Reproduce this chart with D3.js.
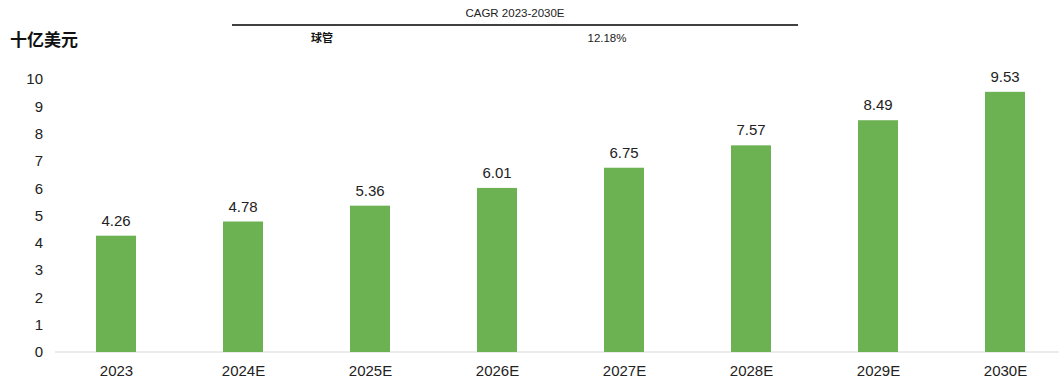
<!DOCTYPE html>
<html>
<head>
<meta charset="utf-8">
<script src="https://cdn.jsdelivr.net/npm/d3@7"></script>
<style>
  body { margin: 0; background: #fff; }
  svg { font-family: "Liberation Sans", Arial, sans-serif; }
</style>
</head>
<body>
<svg id="chart" width="1059" height="383"></svg>
<script>
// data
const years = ["2023", "2024E", "2025E", "2026E", "2027E", "2028E", "2029E", "2030E"];
const values = [4.26, 4.78, 5.36, 6.01, 6.75, 7.57, 8.49, 9.53];
const yTicks = [0, 1, 2, 3, 4, 5, 6, 7, 8, 9, 10];
const cagrRow = ["球管", "12.18%"];

const svg = d3.select("#chart");

const x = d3.scalePoint().domain(years).range([52.5, 1068.5]).padding(0.5);
const y = d3.scaleLinear().domain([0, 10]).range([352, 79]);
const barW = 40;

// unit label
svg.append("text")
  .attr("x", 10).attr("y", 46)
  .attr("font-size", 17).attr("font-weight", "bold")
  .attr("font-family", "'Noto Sans CJK SC', sans-serif")
  .attr("fill", "#111")
  .text("十亿美元");

// CAGR table at top
svg.append("text")
  .attr("x", 515).attr("y", 17)
  .attr("text-anchor", "middle").attr("font-size", 11.5).attr("fill", "#222")
  .text("CAGR 2023-2030E");
svg.append("line")
  .attr("x1", 232).attr("x2", 798).attr("y1", 25).attr("y2", 25)
  .attr("stroke", "#000").attr("stroke-width", 1.5);
svg.append("text")
  .attr("x", 322).attr("y", 42)
  .attr("text-anchor", "middle").attr("font-size", 11).attr("font-weight", "bold")
  .attr("font-family", "'Noto Sans CJK SC', sans-serif")
  .attr("fill", "#111")
  .text(cagrRow[0]);
svg.append("text")
  .attr("x", 607).attr("y", 42)
  .attr("text-anchor", "middle").attr("font-size", 11.5).attr("fill", "#222")
  .text(cagrRow[1]);

// y axis labels, no line
const yAxis = d3.axisLeft(y).tickValues(yTicks).tickSize(0).tickPadding(0);
svg.append("g")
  .attr("transform", "translate(43,0)")
  .call(yAxis)
  .call(g => g.select(".domain").remove())
  .selectAll("text")
  .attr("font-size", 15).attr("fill", "#222")
  .attr("font-family", "'Liberation Sans', Arial, sans-serif");

// baseline
svg.append("line")
  .attr("x1", 55).attr("x2", 1059).attr("y1", y(0)).attr("y2", y(0))
  .attr("stroke", "#d9d9d9").attr("stroke-width", 1);

// x axis labels
const xAxis = d3.axisBottom(x).tickSize(0).tickPadding(13);
svg.append("g")
  .attr("transform", `translate(0,${y(0)})`)
  .call(xAxis)
  .call(g => g.select(".domain").remove())
  .selectAll("text")
  .attr("font-size", 15).attr("fill", "#222")
  .attr("font-family", "'Liberation Sans', Arial, sans-serif");

// bars
const data = years.map((yr, i) => ({ year: yr, value: values[i] }));
svg.append("g").selectAll("rect").data(data).enter().append("rect")
  .attr("x", d => x(d.year) - barW / 2)
  .attr("y", d => y(d.value))
  .attr("width", barW)
  .attr("height", d => y(0) - y(d.value))
  .attr("fill", "#6cb152");

// value labels
svg.append("g").selectAll("text").data(data).enter().append("text")
  .attr("x", d => x(d.year))
  .attr("y", d => y(d.value) - 10)
  .attr("text-anchor", "middle")
  .attr("font-size", 15).attr("fill", "#222")
  .text(d => d.value.toFixed(2));
</script>
</body>
</html>
